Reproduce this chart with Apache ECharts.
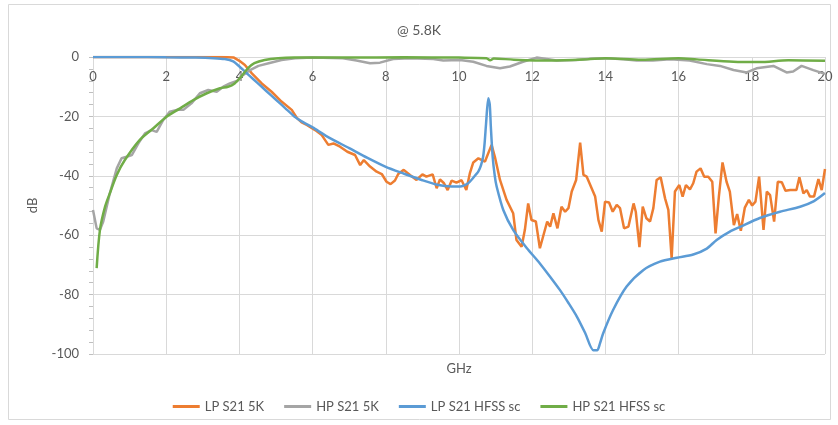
<!DOCTYPE html>
<html>
<head>
<meta charset="utf-8">
<script src="https://cdn.jsdelivr.net/npm/echarts@6/dist/echarts.min.js"></script>
<style>
  html, body { margin: 0; padding: 0; background: #fff; }
  #chart { width: 838px; height: 425px; }
</style>
</head>
<body>
<div id="chart"></div>
<script>
// Frequency axis ticks (GHz) and magnitude axis ticks (dB)
const freqTicks = [0, 2, 4, 6, 8, 10, 12, 14, 16, 18, 20];
const dbTicks = [0, -20, -40, -60, -80, -100];

const seriesNames = ['LP S21 5K', 'HP S21 5K', 'LP S21 HFSS sc', 'HP S21 HFSS sc'];

// Measured low-pass S21 at 5K: [GHz, dB]
const lpMeasured = [
  [0, 0], [1, 0], [2, 0], [3, 0], [3.5, 0], [3.85, -0.2], [4.0, -1.3], [4.15, -2.7],
  [4.34, -5.5], [4.61, -8.9], [4.88, -11.7], [5.15, -15], [5.43, -17.8], [5.57, -20.5],
  [5.7, -22], [5.84, -22.9], [6.07, -24.6], [6.25, -26.3], [6.43, -29.6], [6.57, -29.1],
  [6.75, -30.2], [6.95, -31.9], [7.16, -33], [7.3, -36.4], [7.4, -34.7], [7.57, -36.9],
  [7.75, -38.6], [7.89, -39.4], [8.02, -42], [8.13, -42.8], [8.25, -41.6], [8.34, -39.4],
  [8.49, -38], [8.66, -39.7], [8.84, -41.4], [9.0, -39.5], [9.11, -40.3], [9.28, -39.5],
  [9.39, -44.2], [9.48, -41.2], [9.59, -42.5], [9.69, -44.8], [9.8, -41.6], [9.93, -42.3],
  [10.07, -41.5], [10.2, -44.8], [10.3, -39], [10.39, -35.5], [10.53, -34.1], [10.71, -35.2],
  [10.89, -29.6], [10.98, -33.6], [11.12, -41.4], [11.3, -48.1], [11.48, -52.6], [11.57, -61.6],
  [11.71, -63.9], [11.8, -58.2], [11.89, -49.3], [11.98, -54.9], [12.1, -55.4], [12.21, -64.4],
  [12.41, -55.4], [12.49, -57.1], [12.58, -52.6], [12.69, -57.7], [12.8, -50.4], [12.9, -52.1],
  [12.99, -50.9], [13.08, -45.3], [13.2, -41.4], [13.31, -28.8], [13.4, -39.7], [13.49, -40.3],
  [13.72, -47], [13.81, -54.9], [13.9, -58.8], [13.99, -48.7], [14.1, -49], [14.2, -52.1],
  [14.31, -49.8], [14.4, -50.9], [14.51, -57.7], [14.63, -57.1], [14.77, -49.3], [14.83, -52.1],
  [14.93, -64], [15.02, -50.4], [15.12, -54.3], [15.22, -55.4], [15.31, -50.9], [15.4, -41.4],
  [15.51, -40.5], [15.63, -47.6], [15.72, -51.5], [15.81, -67.8], [15.9, -45.3], [16.02, -43.1],
  [16.11, -47], [16.2, -43.1], [16.31, -44.6], [16.4, -42.5], [16.49, -38.6], [16.6, -37.5],
  [16.7, -40.3], [16.81, -40.3], [16.92, -42], [17.01, -59.4], [17.1, -47], [17.2, -35.5],
  [17.31, -42], [17.4, -45.3], [17.51, -56.6], [17.6, -52.9], [17.7, -58.5], [17.81, -50.7],
  [17.92, -48.1], [18.01, -50], [18.1, -48.7], [18.2, -40.3], [18.32, -58.2], [18.41, -45.3],
  [18.5, -46.5], [18.61, -55.4], [18.71, -42], [18.82, -42.2], [18.92, -45], [19.05, -44.8],
  [19.22, -44.8], [19.3, -40.5], [19.41, -45.9], [19.5, -44.8], [19.59, -47], [19.7, -47],
  [19.82, -41.1], [19.91, -44.8], [20, -37.7]
];

// Measured high-pass S21 at 5K: [GHz, dB]
const hpMeasured = [
  [0, -51.5], [0.1, -57.7], [0.19, -58.2], [0.28, -55.4], [0.46, -45.9], [0.65, -37.5],
  [0.78, -34.1], [0.92, -33.6], [1.06, -33], [1.24, -29.1], [1.42, -25.7], [1.6, -24.6],
  [1.74, -25.2], [1.92, -21.2], [2.1, -18.4], [2.29, -17.8], [2.47, -17.8], [2.69, -15.6],
  [2.92, -12.2], [3.15, -11.1], [3.38, -11.7], [3.56, -10], [3.74, -8.9], [3.93, -8.1],
  [4.05, -6.6], [4.29, -4.4], [4.52, -3], [4.8, -2.1], [5.15, -1], [5.52, -0.4], [6.0, -0.2],
  [6.83, -0.4], [7.2, -1.2], [7.57, -2.1], [7.84, -1.9], [8.2, -0.7], [8.66, -0.4], [9.3, -0.7],
  [9.57, -1.2], [10.03, -1], [10.39, -1.6], [10.75, -3], [11.12, -3.8], [11.39, -3.2],
  [11.75, -1.6], [12.12, -0.2], [12.67, -1.2], [13.21, -1], [13.6, -0.6], [14.03, -0.4],
  [14.5, -0.8], [14.85, -1.2], [15.3, -1.2], [15.77, -0.8], [16.3, -1.2], [16.77, -2.4],
  [17.13, -3], [17.5, -4.4], [17.86, -5.2], [18.13, -3.8], [18.59, -3], [18.95, -5.2],
  [19.13, -4.9], [19.36, -3], [19.68, -4.4], [20, -5.7]
];

// Simulated low-pass S21 (HFSS): [GHz, dB]
const lpSimulated = [
  [0, 0], [1, 0], [2, -0.1], [2.8, -0.2], [3.3, -0.4], [3.6, -0.7], [3.83, -1.5], [4.0, -3.2],
  [4.25, -6], [4.5, -8.8], [4.75, -11.6], [5.0, -14.4], [5.25, -17.2], [5.5, -20], [5.75, -22],
  [6.0, -23.7], [6.4, -26.8], [7.0, -30.7], [7.5, -34], [8.0, -37], [8.5, -39.3], [9.0, -41.5],
  [9.4, -43], [9.8, -43.6], [10.03, -43.6], [10.25, -42.5], [10.4, -40.5], [10.53, -38.5],
  [10.6, -36.5], [10.66, -33.5], [10.7, -29], [10.74, -22.3], [10.8, -13.9], [10.84, -16],
  [10.87, -23.5], [10.92, -33.6], [10.98, -40.3], [11.03, -43.7], [11.21, -51.5], [11.48, -58.2],
  [11.85, -64.3], [12.21, -69.5], [12.49, -74], [12.76, -78.5], [13.0, -83], [13.22, -87.4],
  [13.45, -93], [13.67, -98.7], [13.78, -98.7], [13.85, -96.5], [13.94, -93], [14.21, -85.2],
  [14.58, -77.3], [15.04, -71.7], [15.49, -68.9], [15.95, -67.6], [16.4, -66.5], [16.77, -64.5],
  [17.04, -61.6], [17.4, -58.8], [17.68, -57.2], [18.22, -54.2], [18.77, -52.1], [19.32, -50.4],
  [19.7, -48.5], [20, -45.8]
];

// Simulated high-pass S21 (HFSS): [GHz, dB]
const hpSimulated = [
  [0.1, -71.1], [0.19, -58.2], [0.33, -50.4], [0.46, -45.9], [0.65, -39.7], [0.87, -34.7],
  [1.28, -27.9], [1.65, -24], [2.01, -20.1], [2.38, -17.3], [2.74, -14.5], [3.11, -12.2],
  [3.47, -10.5], [3.69, -10], [3.87, -8.9], [4.05, -6.6], [4.23, -3.8], [4.41, -2.1],
  [4.69, -1], [5.06, -0.4], [5.5, -0.2], [7, -0.2], [8.5, -0.1], [10, -0.2], [10.75, -0.4],
  [10.85, -1.1], [10.95, -0.5], [11.5, -0.9], [12.5, -1.2], [13.5, -0.8], [14, -0.4], [15, -0.9],
  [16, -0.4], [16.5, -0.8], [17.5, -1.6], [18.2, -1.7], [19, -1.1], [20, -1.3]
];

const palette = ['#ED7D31', '#A5A5A5', '#5B9BD5', '#70AD47'];
const textColor = '#595959';
const gridColor = '#d9d9d9';
const fontFamily = 'Lato, "Liberation Sans", sans-serif';

const chart = echarts.init(document.getElementById('chart'), null, { renderer: 'canvas' });

// Simulated traces are drawn as smooth curves; measured traces keep their raw segments
const smoothing = [false, false, 0.25, 0.3];

const lineSeries = [lpMeasured, hpMeasured, lpSimulated, hpSimulated].map((data, i) => ({
  name: seriesNames[i],
  type: 'line',
  data: data,
  showSymbol: false,
  symbol: 'none',
  smooth: smoothing[i],
  lineStyle: { width: 2.5, color: palette[i] },
  itemStyle: { color: palette[i] },
  z: 2 + i
}));

chart.setOption({
  animation: false,
  backgroundColor: '#fff',
  textStyle: { fontFamily: fontFamily },
  title: {
    text: '@ 5.8K',
    left: 'center',
    top: 18,
    textStyle: { color: textColor, fontSize: 14, fontWeight: 'normal', fontFamily: fontFamily }
  },
  graphic: [{
    type: 'rect',
    shape: { x: 8.5, y: 4.5, width: 822, height: 415 },
    style: { fill: null, stroke: gridColor, lineWidth: 1 },
    silent: true,
    z: -10
  }],
  legend: {
    data: seriesNames,
    bottom: 7,
    left: 'center',
    icon: 'rect',
    itemWidth: 27,
    itemHeight: 3,
    itemGap: 20,
    textStyle: { color: textColor, fontSize: 13, fontFamily: fontFamily }
  },
  grid: { left: 93, right: 13, top: 57, bottom: 71, containLabel: false },
  xAxis: [{
    type: 'value',
    position: 'top',
    min: freqTicks[0],
    max: freqTicks[freqTicks.length - 1],
    interval: freqTicks[1] - freqTicks[0],
    axisLine: { show: true, lineStyle: { color: gridColor, width: 1 } },
    axisTick: { show: false },
    axisLabel: { inside: true, margin: 13, color: textColor, fontSize: 13, fontFamily: fontFamily },
    splitLine: { show: true, lineStyle: { color: gridColor, width: 1 } }
  }, {
    type: 'value',
    position: 'bottom',
    min: freqTicks[0],
    max: freqTicks[freqTicks.length - 1],
    name: 'GHz',
    nameLocation: 'middle',
    nameGap: 8,
    nameTextStyle: { color: textColor, fontSize: 13, fontFamily: fontFamily, verticalAlign: 'top' },
    axisLine: { show: false },
    axisTick: { show: false },
    axisLabel: { show: false },
    splitLine: { show: false }
  }],
  yAxis: {
    type: 'value',
    min: dbTicks[dbTicks.length - 1],
    max: dbTicks[0],
    interval: dbTicks[0] - dbTicks[1],
    name: 'dB',
    nameLocation: 'middle',
    nameGap: 54,
    nameTextStyle: { color: textColor, fontSize: 13, fontFamily: fontFamily },
    axisLine: { show: true, lineStyle: { color: gridColor, width: 1 } },
    axisTick: { show: true, length: 4, lineStyle: { color: '#bfbfbf' } },
    minorTick: { show: true, splitNumber: 5, length: 4, lineStyle: { color: '#bfbfbf' } },
    axisLabel: { margin: 14, color: textColor, fontSize: 13, fontFamily: fontFamily },
    splitLine: { show: true, lineStyle: { color: gridColor, width: 1 } }
  },
  series: lineSeries
});
</script>
</body>
</html>
